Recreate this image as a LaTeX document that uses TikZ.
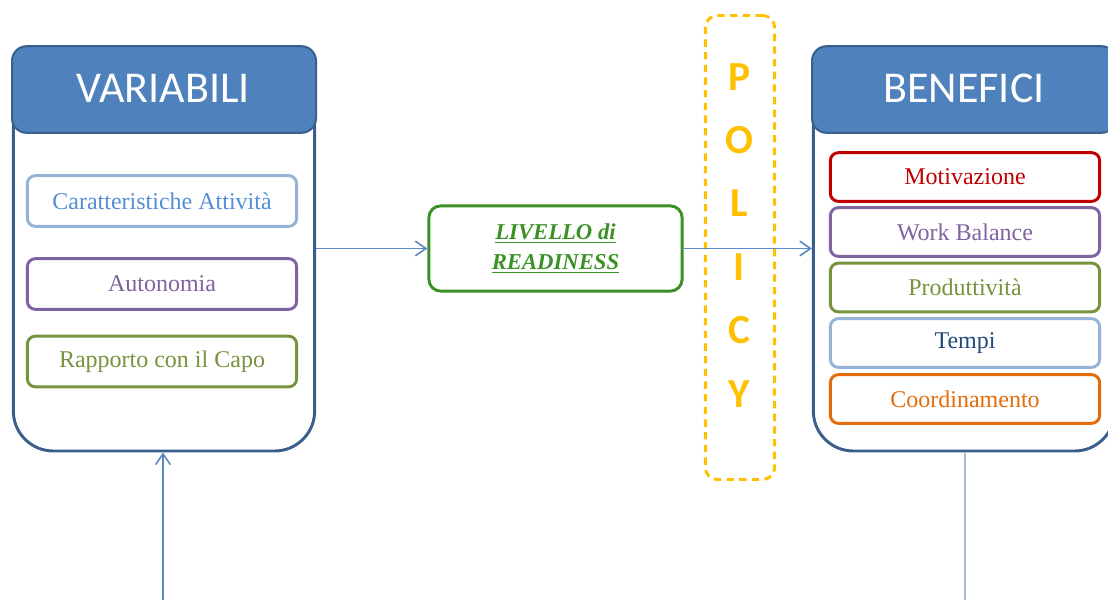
\documentclass[tikz,border=0pt]{standalone}
\usepackage{fontspec}
\setmainfont{Liberation Serif}
\newfontfamily\carl{Carlito}
\usetikzlibrary{arrows.meta}
\definecolor{hdrblue}{HTML}{4F81BD}
\definecolor{edgeblue}{HTML}{3A5F8C}
\definecolor{arrblue}{HTML}{5B89C4}
\definecolor{ltblue}{HTML}{95B3D7}
\definecolor{ltbluetxt}{HTML}{558ED5}
\definecolor{dkbluetxt}{HTML}{1F497D}
\definecolor{purp}{HTML}{8064A2}
\definecolor{olive}{HTML}{77933C}
\definecolor{redb}{HTML}{C00000}
\definecolor{orng}{HTML}{E46C0A}
\definecolor{grn}{HTML}{3A9226}
\definecolor{gold}{HTML}{FFC000}
\definecolor{greyblue}{HTML}{A9BBD3}
\tikzset{
  bigbox/.style={draw=edgeblue, line width=2.2pt, fill=white, rounded corners=30pt,
    minimum width=226pt, minimum height=303pt, inner sep=0pt},
  hdr/.style={draw=edgeblue, line width=1.5pt, fill=hdrblue, rounded corners=11pt,
    minimum width=228pt, minimum height=65pt, inner sep=0pt},
  hdrtxt/.style={text=white, font=\carl\fontsize{33}{40}\selectfont, anchor=base},
  itemL/.style={draw=#1, line width=2.2pt, rounded corners=6pt, fill=white,
    minimum width=202pt, minimum height=38pt, inner sep=0pt,
    font=\fontsize{18}{21}\selectfont},
  itemR/.style={draw=#1, line width=2.2pt, rounded corners=6pt, fill=white,
    minimum width=202pt, minimum height=36.5pt, inner sep=0pt,
    font=\fontsize{18}{21}\selectfont},
  arr/.style={draw=arrblue, line width=1.2pt, -{Straight Barb[length=8pt,width=11pt,line width=1.2pt]}},
  policybox/.style={draw=gold, line width=2.2pt, dash pattern=on 5.5pt off 4pt,
    rounded corners=9pt, minimum width=52pt, minimum height=348pt, inner sep=0pt},
  pol/.style={text=gold, font=\carl\bfseries\fontsize{31}{36}\selectfont, anchor=base},
}
\begin{document}
\begin{tikzpicture}[x=0.75pt,y=-0.75pt]
\useasboundingbox (0,0) rectangle (1108,600);
\clip (0,0) rectangle (1108,600);

% left big box
\node[bigbox] (varbox) at (164,249) {};
\node[hdr] (varhdr) at (164,89.5) {};
\node[hdrtxt] (vartxt) at (163,102) {VARIABILI};
\node[itemL=ltblue, text=ltbluetxt] (car) at (162,201) {Caratteristiche Attività};
\node[itemL=purp, text=purp] (aut) at (162,284) {Autonomia};
\node[itemL=olive, text=olive] (rap) at (162,361.5) {Rapporto con il Capo};

% right big box
\node[bigbox] (benbox) at (964,249) {};
\node[hdr] (benhdr) at (964,89.5) {};
\node[hdrtxt] (bentxt) at (964,102) {BENEFICI};
\node[itemR=redb, text=redb] (mot) at (965,177) {Motivazione};
\node[itemR=purp, text=purp] (wb) at (965,232) {Work Balance};
\node[itemR=olive, text=olive] (prod) at (965,287.5) {Produttività};
\node[itemR=ltblue, text=dkbluetxt] (tem) at (965,343) {Tempi};
\node[itemR=orng, text=orng] (coo) at (965,399) {Coordinamento};

% livello
\node[draw=grn, line width=2.2pt, rounded corners=9pt, minimum width=190pt,
  minimum height=64pt, inner sep=0pt, align=center, text=grn,
  font=\bfseries\itshape\fontsize{17}{22.5}\selectfont] (liv) at (555.5,248.5)
  {\underline{LIVELLO di}\\\underline{READINESS}};

% policy
\node[policybox] (policy) at (740,247.5) {};
\foreach \l/\yy [count=\i] in {P/90,O/153.4,L/216.8,I/280.2,C/343.6,Y/407}
  \node[pol] (pol\i) at (739,\yy) {\l};

% connectors
\draw[arr] (liv.west -| varbox.east) -- (liv.west);
\draw[arr] (liv.east) -- (liv.east -| benbox.west);
\coordinate (b1) at (163,600);
\draw[arr] (b1) -- (b1 |- varbox.south);
\coordinate (b2) at (965,600);
\draw[draw=greyblue, line width=1.5pt] (b2 |- benbox.south) -- (b2);
\end{tikzpicture}
\end{document}
